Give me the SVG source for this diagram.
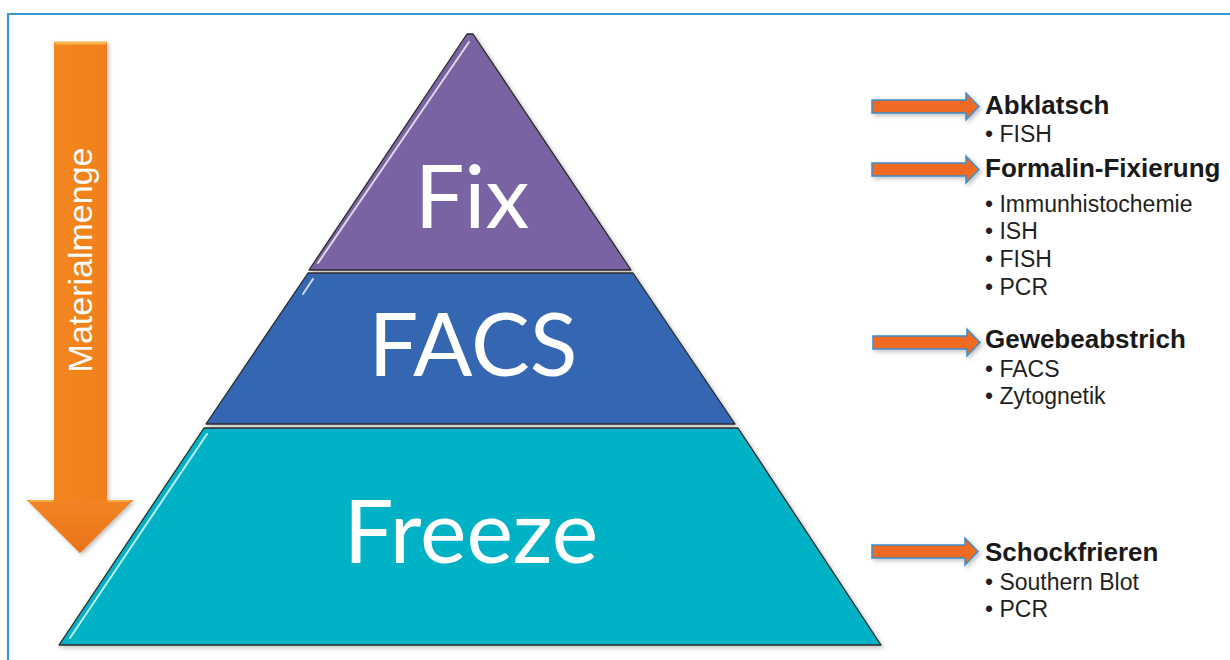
<svg xmlns="http://www.w3.org/2000/svg" width="1230" height="660" viewBox="0 0 1230 660">
<defs>
<style>
.layer{stroke:#2b2b2b;stroke-width:1.3;stroke-linejoin:round}
.big{font-family:Lato,"Open Sans",sans-serif;fill:#ffffff;text-anchor:middle;font-size:88px}
.hl{stroke:#ffffff;stroke-width:2;stroke-linecap:round;opacity:0.75;fill:none}
.head{font-family:"Liberation Sans",Arial,sans-serif;font-weight:bold;font-size:26px;fill:#1a1a1a}
.item{font-family:"Liberation Sans",Arial,sans-serif;font-size:23px;fill:#231f20}
.rarrow{fill:#ef6b22;stroke:#3a8fd0;stroke-width:1.5;stroke-linejoin:miter}
</style>
<filter id="sh" x="-10%" y="-10%" width="130%" height="130%">
<feDropShadow dx="2" dy="2" stdDeviation="2" flood-color="#000" flood-opacity="0.25"/>
</filter>
<linearGradient id="og" x1="0" y1="0" x2="1" y2="0">
<stop offset="0" stop-color="#f48a22"/>
<stop offset="0.9" stop-color="#f07e1c"/>
<stop offset="1" stop-color="#c9620f"/>
</linearGradient>
<linearGradient id="ogh" x1="0" y1="0" x2="0" y2="1">
<stop offset="0" stop-color="#f28523"/>
<stop offset="1" stop-color="#ea7318"/>
</linearGradient>
</defs>
<rect width="1230" height="660" fill="#ffffff"/>
<g id="frame">
<path d="M8 660 V14 H1230" fill="none" stroke="#3b9ad6" stroke-width="2.2"/>
</g>

<g id="materialmenge">
<g filter="url(#sh)">
<path d="M54 42 H107 V500 H133 L80 553 L27 500 H54 Z" fill="url(#og)"/>
<path d="M27 500 H133 L80 553 Z" fill="url(#ogh)"/>
</g>
<path d="M55 43 H106" stroke="#f9b44a" stroke-width="3"/>
<path d="M30 501 H53 M108 501 H130" stroke="#f9ac45" stroke-width="2"/>
<text x="92" y="260" transform="rotate(-90 92 260)" text-anchor="middle" font-family="'Liberation Sans',Arial,sans-serif" font-size="34" fill="#ffffff">Materialmenge</text>
</g>

<g id="layer-fix">
<polygon class="layer" points="467,34 473,34 631,270 309,270" fill="#7a63a3" filter="url(#sh)"/>
<path class="hl" d="M469 42 L318 263"/>
<text class="big" x="472" y="228">Fix</text>
</g>

<g id="layer-facs">
<polygon class="layer" points="308,273 633,273 735,424 206,424" fill="#3466b2" filter="url(#sh)"/>
<path class="hl" d="M313 279 L303 294"/>
<text class="big" x="473" y="376">FACS</text>
</g>

<g id="layer-freeze">
<polygon class="layer" points="204,428 738,428 881,645 59,645" fill="#04b2c6" filter="url(#sh)"/>
<path class="hl" d="M207 434 L70 638"/>
<text class="big" x="471" y="563">Freeze</text>
</g>

<g id="connectors">
<path class="rarrow" d="M872 100 H966 V93 L979 106.5 L966 120 V113 H872 Z" filter="url(#sh)"/>
<path class="rarrow" d="M872 163 H966 V156 L979 169.5 L966 183 V176 H872 Z" filter="url(#sh)"/>
<path class="rarrow" d="M873 336 H967 V329 L980 342.5 L967 356 V349 H873 Z" filter="url(#sh)"/>
<path class="rarrow" d="M872 545 H965 V538 L978 551.5 L965 565 V558 H872 Z" filter="url(#sh)"/>
</g>

<g id="label-abklatsch">
<text class="head" x="985" y="114">Abklatsch</text>
<text class="item" x="985" y="142">• FISH</text>
</g>

<g id="label-formalin">
<text class="head" x="985" y="177">Formalin-Fixierung</text>
<text class="item" x="985" y="212">• Immunhistochemie</text>
<text class="item" x="985" y="239">• ISH</text>
<text class="item" x="985" y="267">• FISH</text>
<text class="item" x="985" y="295">• PCR</text>
</g>

<g id="label-gewebeabstrich">
<text class="head" x="985" y="348">Gewebeabstrich</text>
<text class="item" x="985" y="377">• FACS</text>
<text class="item" x="985" y="404">• Zytognetik</text>
</g>

<g id="label-schockfrieren">
<text class="head" x="985" y="561">Schockfrieren</text>
<text class="item" x="985" y="590">• Southern Blot</text>
<text class="item" x="985" y="617">• PCR</text>
</g>
</svg>
